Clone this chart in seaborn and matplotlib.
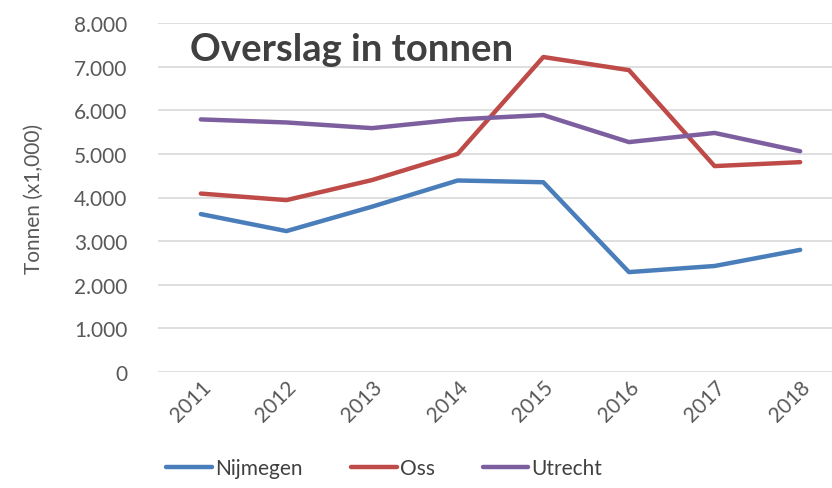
import pandas as pd
import matplotlib.pyplot as plt
import seaborn as sns
from matplotlib.ticker import FuncFormatter, MultipleLocator
from matplotlib.lines import Line2D

# Data (tonnen x1,000)
years = ["2011", "2012", "2013", "2014", "2015", "2016", "2017", "2018"]
nijmegen = [3620, 3230, 3790, 4390, 4350, 2290, 2430, 2800]
oss = [4090, 3940, 4400, 5000, 7220, 6920, 4720, 4810]
utrecht = [5790, 5720, 5590, 5790, 5890, 5270, 5480, 5060]

cities = ["Nijmegen", "Oss", "Utrecht"]
colors = {"Nijmegen": "#4A7EBB", "Oss": "#BE4B48", "Utrecht": "#7D5FA0"}

df = pd.DataFrame({"Jaar": years, "Nijmegen": nijmegen, "Oss": oss, "Utrecht": utrecht})
df = df.melt(id_vars="Jaar", var_name="Stad", value_name="Tonnen")

sns.set_style("white")
plt.rcParams['font.family'] = ['Lato', 'DejaVu Sans']

fig = plt.figure(figsize=(8.32, 4.89), dpi=100)
ax = fig.add_axes([158 / 832, 1 - 373 / 489, 685 / 832, 349 / 489])

sns.lineplot(data=df, x="Jaar", y="Tonnen", hue="Stad", palette=colors,
             linewidth=3.2, sort=False, legend=False, ax=ax)

ax.set_ylim(0, 8000)
ax.set_xlim(-0.5, 7.5)
ax.yaxis.set_major_locator(MultipleLocator(1000))
ax.yaxis.set_major_formatter(FuncFormatter(lambda v, p: "0" if v == 0 else f"{int(v):,}".replace(",", ".")))
ax.grid(axis="y", color="#D9D9D9", linewidth=1.2)
ax.set_axisbelow(True)
for s in ax.spines.values():
    s.set_visible(False)

ax.tick_params(axis="both", length=0, labelsize=15, labelcolor="#595959")
ax.tick_params(axis="y", pad=22)
plt.setp(ax.get_xticklabels(), rotation=45, ha="right", rotation_mode="anchor")
ax.set_xlabel("")
ax.set_ylabel("Tonnen (x1,000)", fontsize=15, color="#595959", labelpad=22)

ax.text(0.047, 0.975, "Overslag in tonnen", transform=ax.transAxes,
        fontsize=27.5, fontweight="bold", color="#404040", va="top", ha="left")

handles = [Line2D([0], [0], color=colors[c], linewidth=3.2) for c in cities]
fig.legend(handles, cities, loc="center", bbox_to_anchor=(0.462, 0.04), ncol=3,
           frameon=False, fontsize=15, handlelength=2.2, handletextpad=0.15,
           columnspacing=2.3, labelcolor="#404040")

fig.savefig("out.png", dpi=100)
